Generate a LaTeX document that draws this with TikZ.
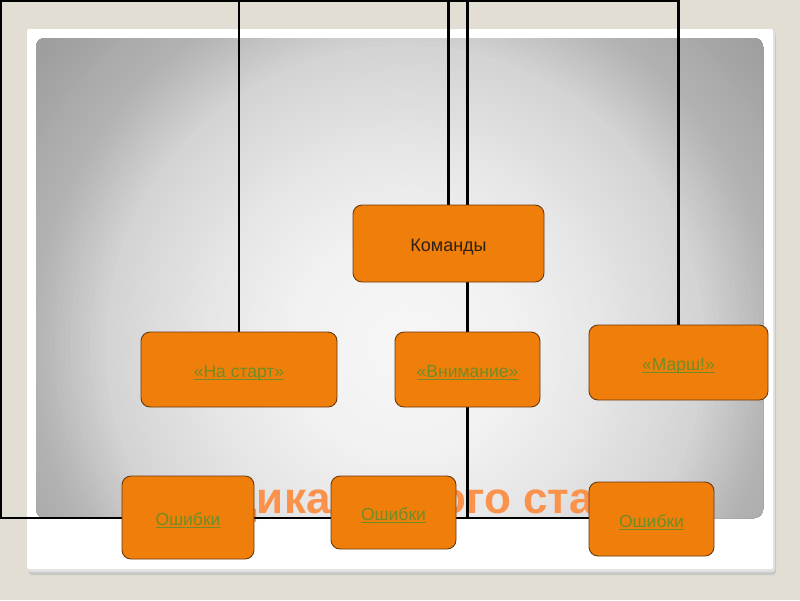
\documentclass[tikz,border=0pt]{standalone}
\usepackage{fontspec}
\usepackage{graphicx}
\setmainfont{Liberation Sans}
\definecolor{beige}{RGB}{227,222,211}
\definecolor{boxorange}{RGB}{239,127,10}
\definecolor{boxedge}{RGB}{105,58,18}
\definecolor{linkgreen}{RGB}{112,140,38}
\definecolor{titleorange}{RGB}{250,146,76}
\definecolor{cmdtext}{RGB}{45,32,25}
\pgfdeclarelayer{slide}
\pgfdeclarelayer{wires}
\pgfsetlayers{slide,wires,main}
\newcommand{\ulink}[1]{\setbox0\hbox{#1}\rlap{\rule[-2.8pt]{\wd0}{0.9pt}}\box0}
\tikzset{
  box/.style={draw=boxedge, fill=boxorange, rounded corners=9pt, line width=0.9pt,
    inner sep=0pt, text height=19pt, text depth=3pt, font=\fontsize{17.5}{19}\selectfont},
  linkbox/.style={box, text=linkgreen},
  cmdbox/.style={box, text=cmdtext, font=\fontsize{18}{20}\selectfont},
  wire/.style={line width=2.2pt, black},
}
\begin{document}
\begin{tikzpicture}[x=1pt, y=-1pt]
\useasboundingbox (0,0) rectangle (800,600);
% boxes
\node[cmdbox, minimum width=191pt, minimum height=77pt] (kom) at (448.5,243.5) {Команды};
\node[linkbox, minimum width=196pt, minimum height=75pt] (nastart) at (239,369.5) {\ulink{«На старт»}};
\node[linkbox, minimum width=145pt, minimum height=75pt] (vnim) at (467.5,369.5) {\ulink{«Внимание»}};
\node[linkbox, minimum width=179pt, minimum height=75pt] (marsh) at (678.5,362.5) {\ulink{«Марш!»}};
\node[linkbox, minimum width=132pt, minimum height=83pt] (err1) at (188,517.5) {\ulink{Ошибки}};
\node[linkbox, minimum width=125pt, minimum height=73pt] (err2) at (393.5,512.5) {\ulink{Ошибки}};
\node[linkbox, minimum width=125pt, minimum height=74pt] (err3) at (651.5,519) {\ulink{Ошибки}};
% slide background
\begin{pgfonlayer}{slide}
  \fill[beige] (0,0) rectangle (800,600);
  \fill[black!22, rounded corners=3pt] (29,32) rectangle (776,575);
  \fill[black!12, rounded corners=3pt] (28,31) rectangle (775,572);
  \fill[white, rounded corners=2pt] (27,29) rectangle (773,569);
  \begin{scope}
    \clip[rounded corners=9pt] (36,38) rectangle (763,518);
    \foreach \r in {620,615,...,5} {
      \pgfmathtruncatemacro{\v}{\r<110 ? 247-5*\r/110 : (\r<200 ? 242-12*(\r-110)/90 : (\r<300 ? 230-18*(\r-200)/100 : (\r<370 ? 212-32*(\r-300)/70 : (\r<470 ? 180-22*(\r-370)/100 : 158))))}
      \fill[fill={rgb,255:red,\v;green,\v;blue,\v}] (405,345) circle[radius=\r pt];
    }
  \end{scope}
\end{pgfonlayer}
% title and connectors
\begin{pgfonlayer}{wires}
  \node[anchor=base west, text=titleorange, inner sep=0pt,
    font=\fontsize{44}{44}\selectfont\bfseries] (title) at (121,513)
    {Методика низкого старта};
  \coordinate (TL) at (1,1);
  \coordinate (BL) at (1,518);
  \draw[wire] (BL -| err3.west) -- (BL) -- (TL) -- (TL -| marsh.north) -- (marsh.north);
  \draw[wire] (nastart.north) -- (nastart.north |- TL);
  \draw[wire] (kom.north) -- (kom.north |- TL);
  \draw[wire] (vnim.north) -- (vnim.north |- TL);
  \draw[wire] (vnim.south) -- (vnim.south |- BL);
\end{pgfonlayer}
\end{tikzpicture}
\end{document}
